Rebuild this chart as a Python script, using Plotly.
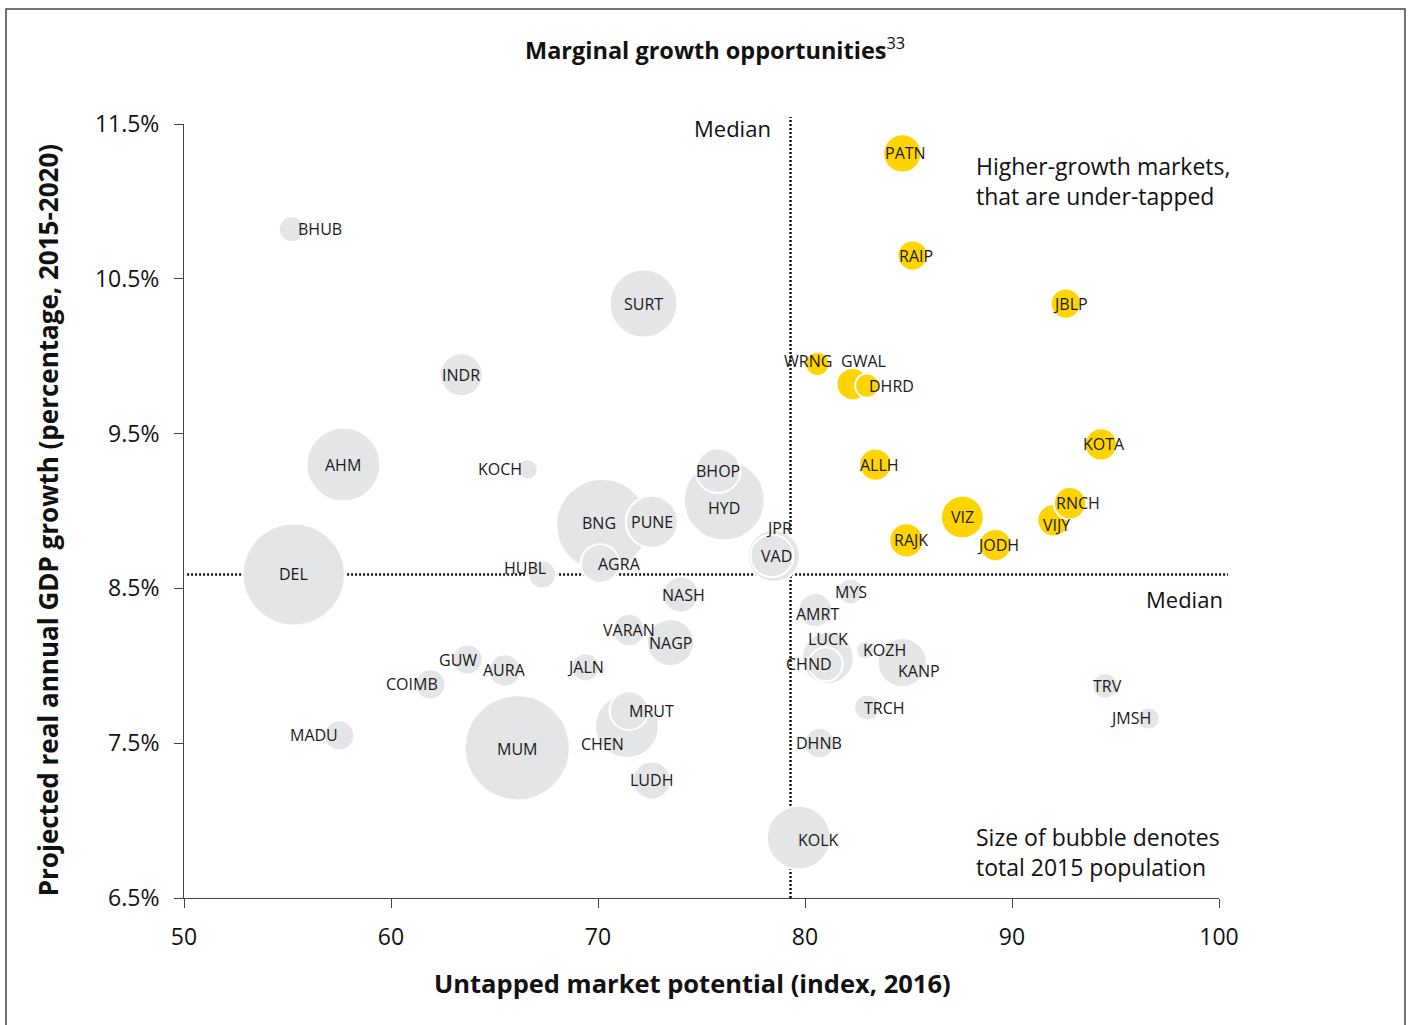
import plotly.graph_objects as go

# ---------------- data ----------------
cities = ["DEL", "MUM", "BNG", "HYD", "AHM", "SURT", "CHEN", "KOLK", "PUNE", "JPR",
          "LUCK", "KANP", "NAGP", "BHOP", "VAD", "INDR", "MRUT", "AGRA", "LUDH", "NASH",
          "CHND", "AMRT", "VARAN", "AURA", "GUW", "COIMB", "MADU", "DHNB", "HUBL", "JALN",
          "BHUB", "TRCH", "MYS", "TRV", "JMSH", "KOCH", "KOZH",
          "VIZ", "PATN", "RAJK", "GWAL", "KOTA", "ALLH", "JODH", "VIJY", "RNCH", "RAIP",
          "JBLP", "DHRD", "WRNG"]
untapped_index = [55.3, 66.1, 70.2, 76.1, 57.7, 72.2, 71.4, 79.7, 72.6, 78.5,
                  81.1, 84.7, 73.5, 75.8, 78.4, 63.4, 71.5, 70.1, 72.6, 74.0,
                  81.0, 80.5, 71.5, 65.5, 63.7, 61.9, 57.5, 80.7, 67.3, 69.4,
                  55.2, 83.0, 82.2, 94.5, 96.6, 66.6, 82.9,
                  87.6, 84.7, 84.9, 82.3, 94.3, 83.4, 89.2, 92.0, 92.8, 85.2,
                  92.6, 83.0, 80.6]
gdp_growth = [8.59, 7.47, 8.91, 9.07, 9.30, 10.34, 7.61, 6.89, 8.93, 8.71,
              8.05, 8.02, 8.15, 9.26, 8.71, 9.88, 7.71, 8.66, 7.26, 8.46,
              8.01, 8.36, 8.23, 7.97, 8.04, 7.88, 7.55, 7.50, 8.59, 7.99,
              10.82, 7.73, 8.48, 7.87, 7.66, 9.27, 8.10,
              8.96, 11.31, 8.81, 9.82, 9.43, 9.30, 8.78, 8.94, 9.05, 10.65,
              10.34, 9.81, 9.95]
population_2015_m = [25.0, 26.5, 20.3, 15.7, 13.1, 11.1, 9.8, 9.8, 6.5, 6.5,
                     6.5, 5.8, 5.3, 4.8, 4.4, 4.4, 3.6, 3.6, 3.5, 3.1,
                     2.8, 2.8, 2.5, 2.5, 2.2, 2.2, 2.2, 2.2, 1.9, 1.9,
                     1.6, 1.6, 1.6, 1.6, 1.2, 1.0, 0.8,
                     4.4, 3.5, 2.8, 2.5, 2.5, 2.5, 2.5, 2.5, 2.5, 2.2,
                     2.2, 1.4, 1.4]
higher_growth = ["VIZ", "PATN", "RAJK", "GWAL", "KOTA", "ALLH", "JODH", "VIJY",
                 "RNCH", "RAIP", "JBLP", "DHRD", "WRNG"]
x_ticks = [50, 60, 70, 80, 90, 100]
y_ticks = [6.5, 7.5, 8.5, 9.5, 10.5, 11.5]
median_untapped = 79.3
median_growth = 8.59

# ---------------- styling ----------------
GREY = "#e4e5e6"
YELLOW = "#ffd400"
FONT = "Open Sans"
# label offsets in pixels (dx right, dy up)
LABEL_OFFSETS = {
    "KOCH": (-28, 0), "HUBL": (-17, 6), "BHUB": (28, 0), "AGRA": (19, 0),
    "HYD": (0, -8), "JPR": (5, 28), "VAD": (5, 0), "GUW": (-10, 0),
    "COIMB": (-18, 0), "MADU": (-25, 0), "CHEN": (-24, -18), "MRUT": (22, 0),
    "KOLK": (20, -2), "TRCH": (17, 0), "LUCK": (0, 19), "CHND": (-17, 0),
    "KOZH": (19, 0), "KANP": (17, -8), "JMSH": (-18, 0), "JBLP": (5, 0),
    "WRNG": (-9, 3), "GWAL": (11, 23), "DHRD": (24, 0), "RNCH": (8, 0),
    "VIJY": (3, -5), "BNG": (-3, 2), "AMRT": (2, -4), "NASH": (3, 0),
    "ALLH": (4, 0), "RAJK": (5, 0), "PATN": (3, 0), "RAIP": (3, 0),
    "KOTA": (3, 0), "JODH": (3, 0), "TRV": (2, 0), "MUM": (0, -1),
}

order = sorted(range(len(cities)), key=lambda i: -population_2015_m[i])
xs = [untapped_index[i] for i in order]
ys = [gdp_growth[i] for i in order]
ss = [population_2015_m[i] for i in order]
cs = [YELLOW if cities[i] in higher_growth else GREY for i in order]

fig = go.Figure()
fig.add_trace(go.Scatter(
    x=xs, y=ys, mode="markers",
    marker=dict(size=ss, sizemode="area", sizeref=0.0048, color=cs,
                opacity=1, line=dict(color="white", width=2)),
    hoverinfo="skip", showlegend=False,
))

annotations = []
for i, c in enumerate(cities):
    dx, dy = LABEL_OFFSETS.get(c, (0, 0))
    annotations.append(dict(
        x=untapped_index[i], y=gdp_growth[i], xref="x", yref="y",
        text=c, showarrow=False, xshift=dx, yshift=dy,
        font=dict(family=FONT, size=16, color="#1a1a1a"),
    ))

# text notes and titles
annotations += [
    dict(xref="paper", yref="paper", x=0.5133, y=1.098, text="<b>Marginal growth opportunities</b><sup>33</sup>",
         showarrow=False, font=dict(family=FONT, size=23.5, color="#111"), xanchor="center", yanchor="middle"),
    dict(xref="paper", yref="paper", x=0.491, y=-0.1098, text="<b>Untapped market potential (index, 2016)</b>",
         showarrow=False, font=dict(family=FONT, size=25.5, color="#111"), xanchor="center", yanchor="middle"),
    dict(xref="paper", yref="paper", x=-0.1314, y=0.488,
         text="<b>Projected real annual GDP growth (percentage, 2015-2020)</b>", textangle=-90,
         showarrow=False, font=dict(family=FONT, size=26, color="#111"), xanchor="center", yanchor="middle"),
    dict(x=median_untapped, y=11.46, xref="x", yref="y", text="Median", showarrow=False,
         xanchor="right", xshift=-18, yshift=2, font=dict(family=FONT, size=22, color="#111")),
    dict(x=100, y=8.43, xref="x", yref="y", text="Median", showarrow=False,
         xanchor="right", xshift=6, font=dict(family=FONT, size=22, color="#111")),
    dict(x=88.15, y=11.12, xref="x", yref="y", text="Higher-growth markets,<br>that are under-tapped",
         showarrow=False, xanchor="left", align="left", yshift=2,
         font=dict(family=FONT, size=23, color="#111")),
    dict(x=88.15, y=6.80, xref="x", yref="y", text="Size of bubble denotes<br>total 2015 population",
         showarrow=False, xanchor="left", align="left",
         font=dict(family=FONT, size=23, color="#111")),
]

shapes = [
    dict(type="line", xref="x", yref="paper", x0=median_untapped, x1=median_untapped, y0=0, y1=1.009,
         line=dict(color="#111", width=2.5, dash="2px,2px"), layer="below"),
    dict(type="line", xref="paper", yref="y", x0=0.003, x1=1.0087, y0=median_growth, y1=median_growth,
         line=dict(color="#111", width=2.5, dash="2px,2px"), layer="below"),
    dict(type="rect", xref="paper", yref="paper", x0=-0.172, x1=1.1797, y0=-0.2, y1=1.1486,
         line=dict(color="#444", width=1.5), fillcolor="rgba(0,0,0,0)", layer="below"),
]

fig.update_layout(
    width=1413, height=1025,
    margin=dict(l=184, r=194, t=124, b=127),
    paper_bgcolor="white", plot_bgcolor="white",
    font=dict(family=FONT, color="#111"),
    annotations=annotations, shapes=shapes,
)
fig.update_xaxes(
    range=[50, 100], tickvals=x_ticks, showgrid=False, zeroline=False,
    showline=True, linecolor="#444", linewidth=1, ticks="outside", ticklen=9,
    tickcolor="#444", tickfont=dict(family=FONT, size=23, color="#111"),
    ticklabelstandoff=9,
)
fig.update_yaxes(
    range=[6.5, 11.5], tickvals=y_ticks, ticktext=[f"{v:.1f}%" for v in y_ticks],
    showgrid=False, zeroline=False,
    showline=True, linecolor="#444", linewidth=1, ticks="outside", ticklen=9,
    tickcolor="#444", tickfont=dict(family=FONT, size=23, color="#111"),
    ticklabelstandoff=10,
)

fig.write_html("out.html")
